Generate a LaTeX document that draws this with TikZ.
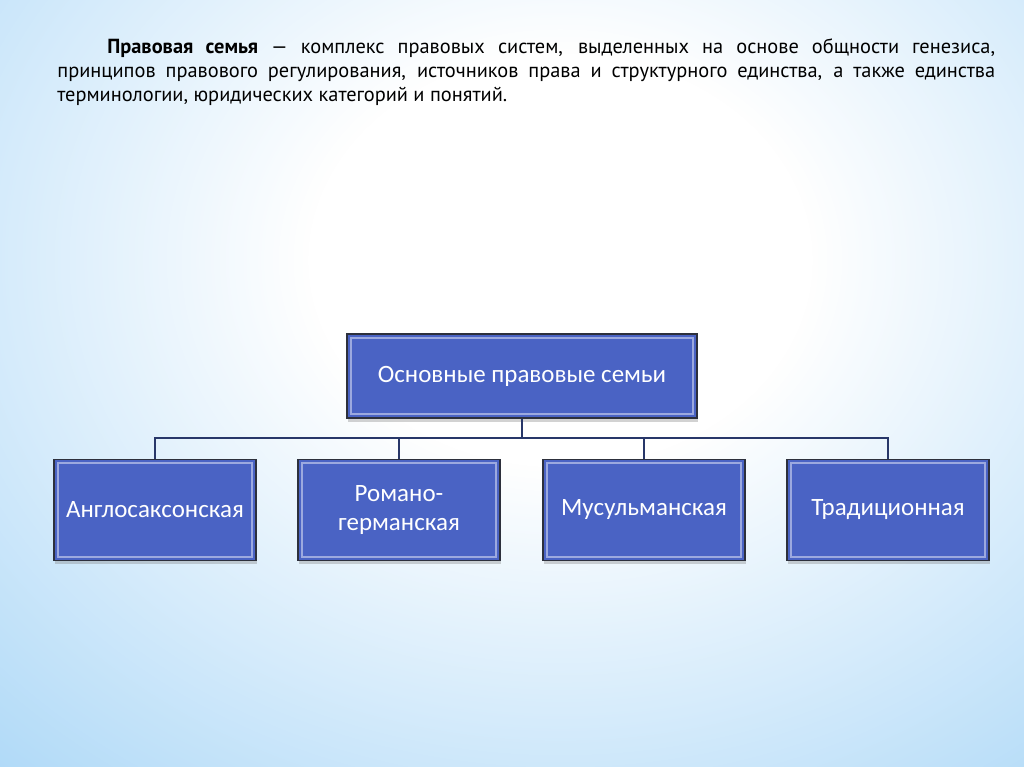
\documentclass[tikz,border=0pt]{standalone}
\usepackage{fontspec}
\setmainfont{PT Sans}
\newfontfamily\boxfont{Carlito}
\usetikzlibrary{positioning,shadows,fadings}

\definecolor{bgblue}{RGB}{155,208,246}
\definecolor{boxblue}{RGB}{74,99,196}
\definecolor{boxrim}{RGB}{45,48,60}
\definecolor{linknavy}{RGB}{40,55,105}

\pgfdeclareradialshading{glowshade}{\pgfpointorigin}{color(0bp)=(pgftransparent!0); color(8bp)=(pgftransparent!0); color(32bp)=(pgftransparent!100); color(50bp)=(pgftransparent!100)}
\pgfdeclarefading{glowfade}{\pgfuseshading{glowshade}}
\tikzfading[name=bandfade, top color=transparent!100, middle color=transparent!30, bottom color=transparent!100]

\tikzset{
  familybox/.style={draw=boxrim, line width=0.8pt, fill=boxblue, text=white,
    font=\boxfont\fontsize{14.2}{16.5}\selectfont, align=center,
    minimum width=4.04cm, minimum height=2.02cm,
    drop shadow={shadow xshift=0.6pt, shadow yshift=-2.2pt, opacity=0.35},
    path picture={\draw[boxblue!55!white, line width=1.1pt]
      ([shift={(2.2pt,-2.2pt)}]path picture bounding box.north west) rectangle
      ([shift={(-2.2pt,2.2pt)}]path picture bounding box.south east);}},
  topbox/.style={familybox, minimum width=7cm, minimum height=1.68cm},
  link/.style={draw=linknavy, line width=0.75pt}
}

\begin{document}
\begin{tikzpicture}[x=0.02cm, y=-0.02cm]
  \useasboundingbox (0,0) rectangle (1024,767);
  \begin{scope}
    \clip (0,0) rectangle (1024,767);
    \fill[bgblue] (0,0) rectangle (1024,767);
    \fill[white, path fading=glowfade, fit fading=true] (-220,-380) rectangle (1340,900);
    \fill[white, path fading=bandfade] (0,555) rectangle (1024,650);
  \end{scope}

  \node[anchor=north west, text width=18.76cm, align=justify, inner sep=0pt,
        font=\fontsize{11.6}{13.8}\selectfont] (definition) at (57,38)
    {\hspace*{1cm}\textbf{Правовая семья} --- комплекс правовых систем, выделенных на основе общности генезиса,\linebreak
     принципов правового регулирования, источников права и структурного единства, а также единства\linebreak
     терминологии, юридических категорий и понятий.};

  \node[topbox] (main) at (522,376) {Основные правовые семьи};
  \node[familybox] (anglo) at (155,510) {Англосаксонская};
  \node[familybox] (romano) at (399,510) {Романо-\\германская};
  \node[familybox] (muslim) at (644,510) {Мусульманская};
  \node[familybox] (tradit) at (888,510) {Традиционная};

  \coordinate (hub) at (522,438);
  \draw[link] (main.south) -- (hub);
  \draw[link] (anglo.north) |- (hub) -| (tradit.north);
  \draw[link] (romano.north) -- (romano.north |- hub);
  \draw[link] (muslim.north) -- (muslim.north |- hub);
\end{tikzpicture}
\end{document}
